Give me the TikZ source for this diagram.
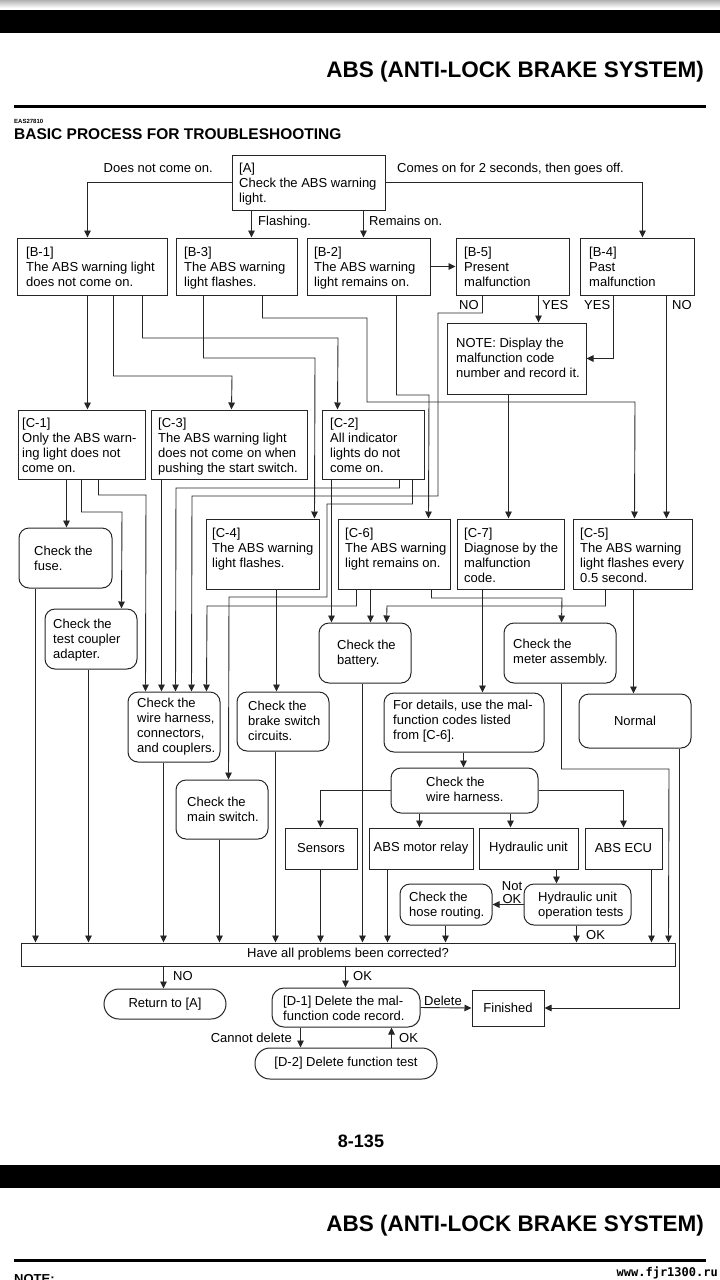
\documentclass[tikz,border=0pt]{standalone}
\usepackage{fontspec}
\setmainfont{Liberation Sans}
\newfontfamily\wmfont{DejaVu Sans Mono}
\usetikzlibrary{arrows.meta}
\newcommand\fs{\fontsize{13}{15}\selectfont}
\newcommand\bx[7]{\node[#6, minimum width={(#4)-(#2)}, minimum height={(#5)-(#3)}] (#1) at ({((#2)+(#4))/2},{((#3)+(#5))/2}) {#7};}
\tikzset{
 ln/.style={draw=black!85, line width=0.9pt},
 arr/.style={ln, -{Triangle[length=7pt,width=6.5pt]}},
 box/.style={draw=black!85, line width=1pt, inner sep=0, font=\fs},
 rbox/.style={box, rounded corners=10pt},
 pill/.style={box, rounded corners=15pt},
 tx/.style={anchor=north west, inner sep=0, align=left, font=\fs},
 lb/.style={inner sep=0, font=\fs},
}
\begin{document}
\begin{tikzpicture}[x=1pt,y=-1pt]
\useasboundingbox (0,0) rectangle (720,1280);
\clip (0,0) rectangle (720,1280);
\fill[white] (0,0) rectangle (720,1280);
% header
\shade[top color=black!30, bottom color=white] (0,0) rectangle (720,8);
\fill[black] (0,10) rectangle (720,33);
\node[anchor=base east, inner sep=0, font=\fontsize{22.5}{26}\selectfont\bfseries] (title) at (704,77) {ABS (ANTI-LOCK BRAKE SYSTEM)};
\fill[black] (14,105) rectangle (706,108);
\node[anchor=base west, inner sep=0, font=\fontsize{6}{7}\selectfont\bfseries] (eas) at (14,123) {EAS27810};
\node[anchor=base west, inner sep=0, font=\fontsize{15.5}{18}\selectfont\bfseries] (basic) at (14,139) {BASIC PROCESS FOR TROUBLESHOOTING};
% footer
\node[anchor=base, inner sep=0, font=\fontsize{18}{20}\selectfont\bfseries] (pg) at (361,1147) {8-135};
\fill[black] (0,1165) rectangle (720,1188);
\node[anchor=base east, inner sep=0, font=\fontsize{22.5}{26}\selectfont\bfseries] (title2) at (704,1231) {ABS (ANTI-LOCK BRAKE SYSTEM)};
\fill[black] (14,1259) rectangle (706,1262);
\node[anchor=base west, inner sep=0, font=\fontsize{13}{15}\selectfont\bfseries] (note2) at (14,1283) {NOTE:};
\node[anchor=base east, inner sep=0, font={\wmfont\fontsize{12}{12}\selectfont\bfseries}] (wm) at (718,1276) {www.fjr1300.ru};

% boxes
\bx{a}{232}{155}{385}{210}{box}{}
\bx{b1}{17}{238}{167}{295}{box}{}
\bx{b3}{176}{238}{297}{295}{box}{}
\bx{b2}{307}{238}{430}{295}{box}{}
\bx{b5}{456}{238}{569}{295}{box}{}
\bx{b4}{580}{238}{694}{295}{box}{}
\bx{note}{447}{323}{586}{394}{box}{}
\bx{c1}{18}{410}{145}{479}{box}{}
\bx{c3}{151}{410}{307}{479}{box}{}
\bx{c2}{322}{410}{424}{479}{box}{}
\bx{c4}{206}{519}{319}{589}{box}{}
\bx{c6}{338}{519}{450}{589}{box}{}
\bx{c7}{457}{519}{564}{589}{box}{}
\bx{c5}{573}{519}{692}{589}{box}{}
\bx{fuse}{19}{528}{112}{588}{rbox}{}
\bx{tc}{45}{609}{137}{669}{rbox}{}
\bx{bat}{319}{623}{411}{683}{rbox}{}
\bx{met}{504}{623}{616}{683}{rbox}{}
\bx{wh1}{128}{692}{220}{762}{rbox}{}
\bx{brk}{237}{692}{329}{751}{rbox}{}
\bx{det}{384}{693}{544}{752}{rbox}{}
\bx{nor}{579}{694}{691}{748}{rbox}{Normal}
\bx{wh2}{391}{768}{538}{813}{rbox}{}
\bx{ms}{176}{780}{268}{839}{rbox}{}
\bx{sen}{285}{828}{357}{869}{box}{Sensors}
\bx{mr}{369}{828}{473}{869}{box}{ABS motor relay}
\bx{hu}{479}{828}{578}{869}{box}{Hydraulic unit}
\bx{ecu}{585}{828}{662}{869}{box}{ABS ECU}
\bx{hose}{400}{884}{492}{925}{rbox}{}
\bx{huo}{524}{884}{631}{925}{rbox}{}
\bx{ha}{21}{943}{675}{966}{box}{Have all problems been corrected?}
\bx{ret}{104}{989}{226}{1019}{pill}{Return to [A]}
\bx{d1}{272}{988}{420}{1027}{box, rounded corners=12pt}{}
\bx{fin}{472}{990}{544}{1026}{box}{Finished}
\bx{d2}{255}{1048}{437}{1079}{pill}{[D-2] Delete function test}

% box texts
\node[tx] (a-t) at (239,161.5) {\strut[A]\\Check the ABS warning\\light.};
\node[tx] (b1-t) at (26,246) {\strut[B-1]\\The ABS warning light\\does not come on.};
\node[tx] (b3-t) at (184,246) {\strut[B-3]\\The ABS warning\\light flashes.};
\node[tx] (b2-t) at (314,246) {\strut[B-2]\\The ABS warning\\light remains on.};
\node[tx] (b5-t) at (464,246) {\strut[B-5]\\Present\\malfunction};
\node[tx] (b4-t) at (589,246) {\strut[B-4]\\Past\\malfunction};
\node[tx] (note-t) at (456,337) {\strut NOTE: Display the\\malfunction code\\number and record it.};
\node[tx] (c1-t) at (22,417) {\strut[C-1]\\Only the ABS warn-\\ing light does not\\come on.};
\node[tx] (c3-t) at (158,417) {\strut[C-3]\\The ABS warning light\\does not come on when\\pushing the start switch.};
\node[tx] (c2-t) at (330,417) {\strut[C-2]\\All indicator\\lights do not\\come on.};
\node[tx] (c4-t) at (212,526.5) {\strut[C-4]\\The ABS warning\\light flashes.};
\node[tx] (c6-t) at (345,526.5) {\strut[C-6]\\The ABS warning\\light remains on.};
\node[tx] (c7-t) at (464,526.5) {\strut[C-7]\\Diagnose by the\\malfunction\\code.};
\node[tx] (c5-t) at (580,526.5) {\strut[C-5]\\The ABS warning\\light flashes every\\0.5 second.};
\node[tx] (fuse-t) at (34,545) {\strut Check the\\fuse.};
\node[tx] (tc-t) at (53,618) {\strut Check the\\test coupler\\adapter.};
\node[tx] (bat-t) at (337,638.5) {\strut Check the\\battery.};
\node[tx] (met-t) at (513,638) {\strut Check the\\meter assembly.};
\node[tx] (wh1-t) at (137,696.5) {\strut Check the\\wire harness,\\connectors,\\and couplers.};
\node[tx] (brk-t) at (248,699.5) {\strut Check the\\brake switch\\circuits.};
\node[tx] (det-t) at (393,698.5) {\strut For details, use the mal-\\function codes listed\\from [C-6].};
\node[tx] (wh2-t) at (426,776) {\strut Check the\\wire harness.};
\node[tx] (ms-t) at (187,796) {\strut Check the\\main switch.};
\node[tx] (hose-t) at (409,891) {\strut Check the\\hose routing.};
\node[tx] (huo-t) at (538,891) {\strut Hydraulic unit\\operation tests};
\node[tx] (d1-t) at (283,994.5) {\strut[D-1] Delete the mal-\\function code record.};

% labels
\node[lb, anchor=base east] (l1) at (213,172) {Does not come on.};
\node[lb, anchor=base west] (l2) at (397,172) {Comes on for 2 seconds, then goes off.};
\node[lb, anchor=base west] (l3) at (258,225) {Flashing.};
\node[lb, anchor=base west] (l4) at (369,225) {Remains on.};
\node[lb, anchor=base west] (l5) at (459,309) {NO};
\node[lb, anchor=base west] (l6) at (542,309) {YES};
\node[lb, anchor=base west] (l7) at (584,309) {YES};
\node[lb, anchor=base west] (l8) at (672,309) {NO};
\node[lb, anchor=north, align=center, font=\fontsize{13}{13}\selectfont] (l9) at (512,881) {\strut Not\\OK};
\node[lb, anchor=base west] (l10) at (586,939) {OK};
\node[lb, anchor=base west] (l11) at (173,980) {NO};
\node[lb, anchor=base west] (l12) at (353,980) {OK};
\node[lb, anchor=base west] (l13) at (424,1005) {Delete};
\node[lb, anchor=base east] (l14) at (292,1042) {Cannot delete};
\node[lb, anchor=base west] (l15) at (399,1042) {OK};

% connectors
\draw[arr] (a.west) -| ([xshift=71pt]b1.north west);
\draw[arr] (a.east) -| ([xshift=63pt]b4.north west);
\draw[arr] ([xshift=20pt]a.south west) -- ([xshift=76pt]b3.north west);
\draw[arr] ([xshift=132pt]a.south west) -- ([xshift=57pt]b2.north west);
\draw[arr] (b2.east) -- (b5.west);
\draw[arr] ([xshift=71pt]b1.south west) -- ([xshift=70pt]c1.north west);
\draw[arr] ([xshift=97pt]b1.south west) |- (232,376) -- ([xshift=81pt]c3.north west);
\draw[arr] ([xshift=126pt]b1.south west) |- (338,338) -- ([xshift=16pt]c2.north west);
\draw[arr] ([xshift=28pt]b3.south west) |- (315,358) -- ([xshift=109pt]c4.north west);
\draw[arr] ([xshift=87pt]b3.south west) |- (367,318) |- (635,402) -- ([xshift=62pt]c5.north west);
\draw[arr] ([xshift=90pt]b2.south west) |- (429,395) -- ([xshift=91pt]c6.north west);
\draw[arr] ([xshift=83pt]b5.south west) -- ([xshift=92pt]note.north west);
\draw[arr] ([xshift=27pt]b5.south west) |- (438,313) |- (192,496) -- ([xshift=64pt]wh1.north west);
\draw[arr] ([xshift=34pt]b4.south west) |- (note.east);
\draw[arr] ([xshift=87pt]b4.south west) -- ([xshift=94pt]c5.north west);
\draw[arr] ([xshift=62pt]note.south west) -- ([xshift=52pt]c7.north west);
\draw[arr] ([xshift=49pt]c1.south west) -- ([xshift=48pt]fuse.north west);
\draw[arr] ([xshift=64pt]c1.south west) |- (122,512) -- ([xshift=77pt]tc.north west);
\draw[arr] ([xshift=81pt]c1.south west) |- (146,495) -- ([xshift=18pt]wh1.north west);
\draw[arr] ([xshift=11pt]c3.south west) -- ([xshift=34pt]wh1.north west);
\draw[arr] ([xshift=78pt]c2.south west) |- (176,488) -- ([xshift=48pt]wh1.north west);
\draw[arr] ([xshift=91pt]c2.south west) |- (327,504) |- (229,597) -- ([xshift=53pt]ms.north west);
\draw[arr] ([xshift=10pt]c2.south west) -- ([xshift=13pt]bat.north west);
\draw[arr] ([xshift=71pt]c4.south west) -- ([xshift=40pt]brk.north west);
\draw[arr] ([xshift=19pt]c6.south west) |- (207,606) -- ([xshift=79pt]wh1.north west);
\draw[arr] ([xshift=33pt]c6.south west) -- ([xshift=52pt]bat.north west);
\draw[arr] ([xshift=94pt]c6.south west) |- (562,598) -- ([xshift=58pt]met.north west);
\draw[arr] ([xshift=26pt]c7.south west) -- ([xshift=99pt]det.north west);
\draw[arr] ([xshift=33pt]c5.south west) |- (387,606) -- ([xshift=68pt]bat.north west);
\draw[arr] ([xshift=61pt]c5.south west) -- ([xshift=55pt]nor.north west);
\draw[arr] ([xshift=80pt]det.south west) -- ([xshift=73pt]wh2.north west);
\draw[arr] (wh2.west) -| ([xshift=36pt]sen.north west);
\draw[arr] (wh2.east) -| ([xshift=39pt]ecu.north west);
\draw[arr] ([xshift=29pt]wh2.south west) -- ([xshift=51pt]mr.north west);
\draw[arr] ([xshift=120pt]wh2.south west) -- ([xshift=32pt]hu.north west);
\draw[arr] ([xshift=78pt]hu.south west) -- ([xshift=33pt]huo.north west);
\draw[arr] (huo.west) -- (hose.east);
\draw[arr] ([xshift=17pt]fuse.south west) -- ([xshift=15pt]ha.north west);
\draw[arr] ([xshift=44pt]tc.south west) -- ([xshift=68pt]ha.north west);
\draw[arr] ([xshift=36pt]wh1.south west) -- ([xshift=143pt]ha.north west);
\draw[arr] ([xshift=44pt]ms.south west) -- ([xshift=199pt]ha.north west);
\draw[arr] ([xshift=39pt]brk.south west) -- ([xshift=255pt]ha.north west);
\draw[arr] ([xshift=36pt]sen.south west) -- ([xshift=300pt]ha.north west);
\draw[arr] ([xshift=44pt]bat.south west) -- ([xshift=342pt]ha.north west);
\draw[arr] ([xshift=19pt]mr.south west) -- ([xshift=367pt]ha.north west);
\draw[arr] ([xshift=46pt]hose.south west) -- ([xshift=425pt]ha.north west);
\draw[arr] ([xshift=53pt]huo.south west) -- ([xshift=556pt]ha.north west);
\draw[arr] ([xshift=67pt]ecu.south west) -- ([xshift=631pt]ha.north west);
\draw[arr] ([xshift=58pt]met.south west) |- (669,769) -- ([xshift=648pt]ha.north west);
\draw[arr] ([xshift=101pt]nor.south west) |- (fin.east);
\draw[arr] ([xshift=143pt]ha.south west) -- ([xshift=60pt]ret.north west);
\draw[arr] ([xshift=325pt]ha.south west) -- ([xshift=74pt]d1.north west);
\draw[arr] (d1.east) -- (fin.west);
\draw[arr] ([xshift=29pt]d1.south west) -- ([xshift=46pt]d2.north west);
\draw[arr] ([xshift=137pt]d2.north west) -- ([xshift=120pt]d1.south west);
\end{tikzpicture}
\end{document}
